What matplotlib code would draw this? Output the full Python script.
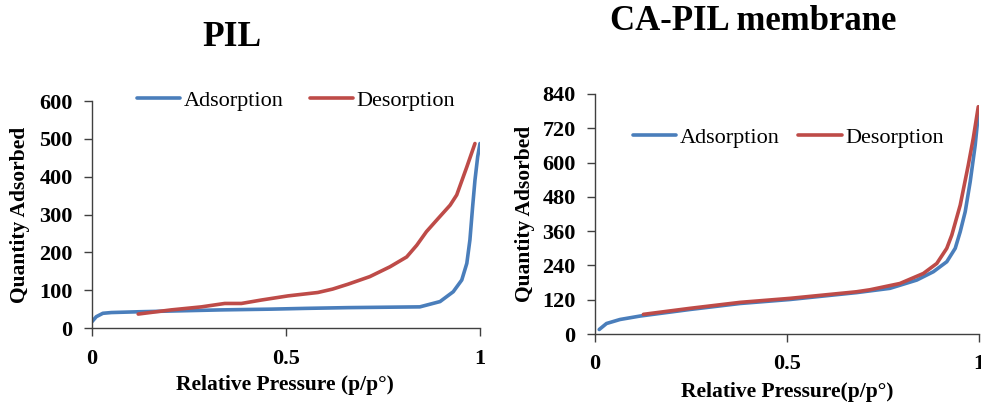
import matplotlib
matplotlib.use("Agg")
import matplotlib.pyplot as plt

plt.rcParams["font.family"] = ["Liberation Serif", "DejaVu Serif"]

BLUE = "#4a7ebb"
RED = "#be4b48"

# PIL isotherm
pil_ads_p = [0.0, 0.011, 0.028, 0.05, 0.119, 0.247, 0.333, 0.462, 0.55, 0.66, 0.845,
             0.897, 0.931, 0.953, 0.966, 0.974, 0.981, 0.987, 0.994, 1.0]
pil_ads_q = [17, 30, 39, 41, 43, 46, 48, 50, 52, 54, 56,
             70, 96, 127, 171, 233, 321, 391, 453, 488]
pil_des_p = [0.987, 0.966, 0.940, 0.923, 0.888, 0.862, 0.837, 0.811, 0.768, 0.716, 0.66,
             0.62, 0.582, 0.505, 0.436, 0.385, 0.342, 0.282, 0.204, 0.119]
pil_des_q = [488, 426, 352, 325, 285, 255, 219, 188, 162, 136, 116,
             103, 94, 85, 74, 65, 65, 56, 48, 37]

# CA-PIL membrane isotherm
ca_ads_p = [0.011, 0.030, 0.065, 0.117, 0.247, 0.378, 0.508, 0.681, 0.768, 0.838, 0.881,
            0.916, 0.938, 0.951, 0.964, 0.977, 0.99, 1.0]
ca_ads_q = [16, 37, 51, 63, 86, 107, 121, 145, 160, 189, 218,
            253, 300, 358, 428, 533, 661, 795]
ca_des_p = [0.998, 0.985, 0.972, 0.951, 0.929, 0.916, 0.89, 0.855, 0.794, 0.716, 0.681,
            0.508, 0.378, 0.247, 0.126]
ca_des_q = [795, 685, 591, 451, 346, 300, 247, 212, 177, 155, 148,
            125, 111, 90, 69]

fig = plt.figure(figsize=(9.81, 4.03), dpi=100)
ax1 = fig.add_axes([0.0938, 0.186, 0.3955, 0.563])
ax2 = fig.add_axes([0.6065, 0.171, 0.3915, 0.596])


def style(ax, ymax, ystep, leg_xy, xpad, colsp):
    ax.set_xlim(0, 1)
    ax.set_ylim(0, ymax)
    ax.set_xticks([0, 0.5, 1])
    ax.set_xticklabels(["0", "0.5", "1"])
    ax.set_yticks(range(0, ymax + 1, ystep))
    for s in ["top", "right"]:
        ax.spines[s].set_visible(False)
    for s in ["left", "bottom"]:
        ax.spines[s].set_color("#404040")
        ax.spines[s].set_linewidth(1.0)
    ax.tick_params(direction="out", length=6, width=1, color="#404040",
                   labelsize=16, pad=8)
    ax.tick_params(axis="x", pad=xpad)
    for lab in ax.get_xticklabels() + ax.get_yticklabels():
        lab.set_fontweight("bold")
    ax.set_ylabel("Quantity Adsorbed", fontsize=15.5, fontweight="bold")
    ax.legend(loc="center", bbox_to_anchor=leg_xy, ncol=2, frameon=False,
              fontsize=16, handlelength=1.95, handletextpad=0.15,
              columnspacing=colsp, borderaxespad=0)


ax1.plot(pil_ads_p, pil_ads_q, color=BLUE, lw=2.6, label="Adsorption",
         solid_capstyle="round", solid_joinstyle="round")
ax1.plot(pil_des_p, pil_des_q, color=RED, lw=2.6, label="Desorption",
         solid_capstyle="round", solid_joinstyle="round")
style(ax1, 600, 100, (0.526, 1.004), 9, 1.2)
ax1.set_xlabel("Relative Pressure (p/p°)", fontsize=15.5, fontweight="bold")
ax1.xaxis.set_label_coords(0.497, -0.251)
ax1.xaxis.label.set_va("center")
ax1.yaxis.set_label_coords(-0.186, 0.498)
ax1.yaxis.label.set_va("center")

ax2.plot(ca_ads_p, ca_ads_q, color=BLUE, lw=2.6, label="Adsorption",
         solid_capstyle="round", solid_joinstyle="round")
ax2.plot(ca_des_p, ca_des_q, color=RED, lw=2.6, label="Desorption",
         solid_capstyle="round", solid_joinstyle="round")
style(ax2, 840, 120, (0.503, 0.817), 8, 0.85)
ax2.set_xlabel("Relative Pressure(p/p°)", fontsize=15.5, fontweight="bold")
ax2.xaxis.set_label_coords(0.5, -0.242)
ax2.xaxis.label.set_va("center")
ax2.yaxis.set_label_coords(-0.182, 0.5)
ax2.yaxis.label.set_va("center")

fig.text(232 / 981, 1 - 38 / 403, "PIL", fontsize=25.5, fontweight="bold",
         ha="center", va="center")
fig.text(753 / 981, 1 - 22 / 403, "CA-PIL membrane", fontsize=25,
         fontweight="bold", ha="center", va="center")

fig.savefig("out.png", dpi=100)
